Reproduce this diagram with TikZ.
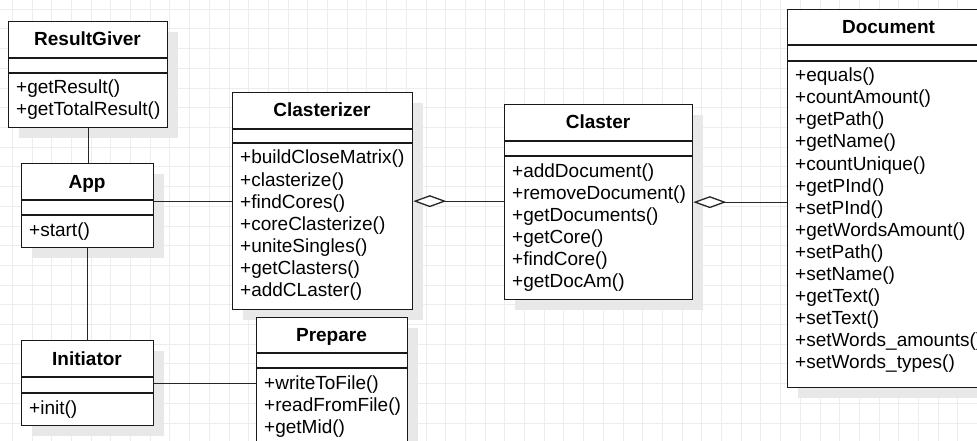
\documentclass[tikz,border=0pt]{standalone}
\usepackage{fontspec}
\setmainfont{Liberation Sans}
\usetikzlibrary{arrows.meta,shadows}

\tikzset{
  classbox/.style={draw=black!90, line width=1.3pt, fill=white, inner sep=0pt,
    drop shadow={shadow xshift=10pt, shadow yshift=-10pt, fill=black!9, opacity=1}},
  sepline/.style={draw=black!90, line width=1.3pt},
  titletext/.style={font=\fontsize{19}{22}\selectfont\bfseries, inner sep=0pt, anchor=base},
  methodtext/.style={font=\fontsize{19}{22}\selectfont, inner sep=0pt, anchor=base west},
  link/.style={draw=black!85, line width=1.3pt},
  aggr/.style={link, {Diamond[length=33pt, width=12pt, fill=white]}-},
  gridline/.style={draw=black!7, line width=1pt},
}

% UML class box: name, x1, y1, x2, y2, header line, attribute line, title, methods
\newcommand\umlclass[9]{%
  \node[classbox, anchor=north west, minimum width={(#4)-(#2)}, minimum height={(#5)-(#3)}] (#1) at (#2,#3) {};
  \draw[sepline] (#2,#6) -- (#4,#6);
  \draw[sepline] (#2,#7) -- (#4,#7);
  \node[titletext] (#1-title) at ({((#2)+(#4))/2},{((#3)+(#6))/2+6.5}) {#8};
  \foreach \m [count=\i from 0] in {#9} {
    \node[methodtext] (#1-m\i) at ({(#2)+8},{(#7)+21+22*\i}) {\m};
  }
}

\begin{document}
\begin{tikzpicture}[x=1pt, y=-1pt]
  \useasboundingbox (0,0) rectangle (977,441);
  \clip (0,0) rectangle (977,441);
  \fill[white] (0,0) rectangle (977,441);

  % background grid
  \foreach \k in {0,...,49} {
    \draw[gridline] ({12.3+19.7*\k},0) -- ({12.3+19.7*\k},441);
  }
  \foreach \k in {0,...,22} {
    \draw[gridline] (0,{9.3+19.7*\k}) -- (977,{9.3+19.7*\k});
  }

  % classes
  \umlclass{rg}{8}{21}{167}{127}{58}{73}{ResultGiver}{+getResult(),+getTotalResult()}
  \umlclass{app}{21}{163}{153}{247}{200}{215}{App}{+start()}
  \umlclass{ini}{21}{340}{153}{425}{377}{393}{Initiator}{+init()}
  \umlclass{clz}{232}{92}{412}{309}{129}{143}{Clasterizer}{+buildCloseMatrix(),+clasterize(),+findCores(),+coreClasterize(),+uniteSingles(),+getClasters(),+addCLaster()}
  \umlclass{prep}{256}{317}{407}{470}{353}{368}{Prepare}{+writeToFile(),+readFromFile(),+getMid()}
  \umlclass{cls}{504}{104}{692}{299}{141}{156}{Claster}{+addDocument(),+removeDocument(),+getDocuments(),+getCore(),+findCore(),+getDocAm()}
  \umlclass{doc}{787}{9}{990}{387}{45}{61}{Document}{+equals(),+countAmount(),+getPath(),+getName(),+countUnique(),+getPInd(),+setPInd(),+getWordsAmount(),+setPath(),+setName(),+getText(),+setText(),+setWords\_amounts(),+setWords\_types()}

  % associations
  \draw[link] (rg.south) -- (rg.south |- app.north);
  \draw[link] (app.south) -- (app.south |- ini.north);
  \draw[link] (app.east |- clz.west) -- (clz.west);
  \draw[link] (ini.east) -- (ini.east -| prep.west);

  % aggregations
  \draw[aggr] (clz.east) -- (clz.east -| cls.west);
  \draw[aggr] (cls.east) -- (cls.east -| doc.west);
\end{tikzpicture}
\end{document}
